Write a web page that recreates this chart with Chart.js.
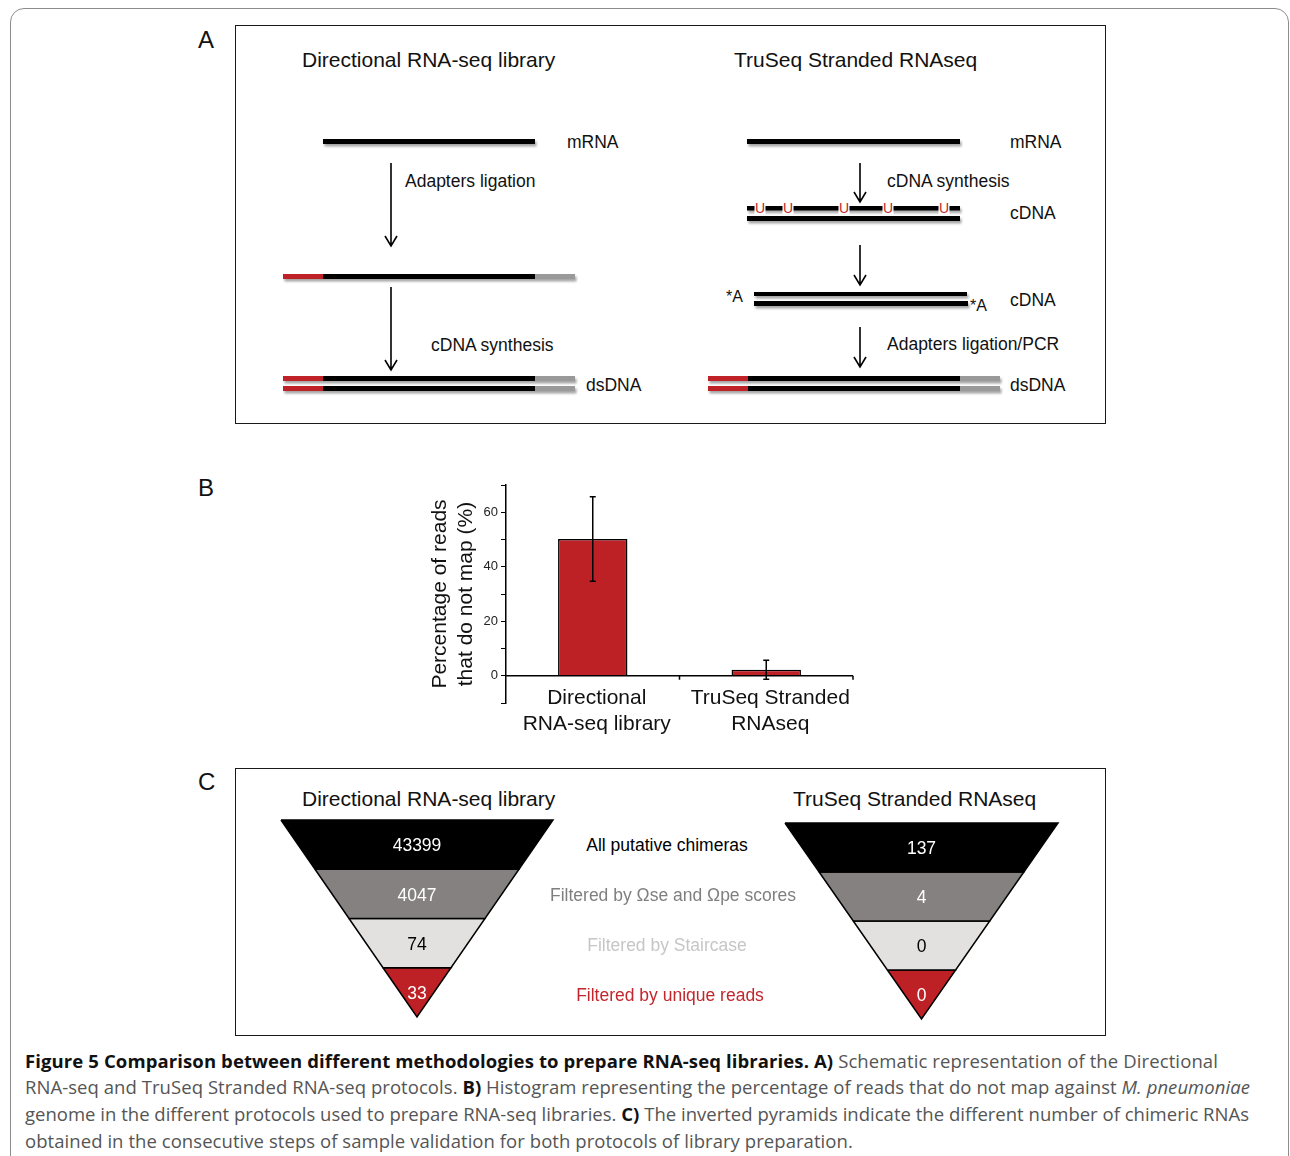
<!DOCTYPE html>
<html><head><meta charset="utf-8">
<script src="https://cdn.jsdelivr.net/npm/chart.js@4.4.1/dist/chart.umd.min.js"></script>
<style>
html,body{margin:0;padding:0;background:#fff;}
body{width:1290px;height:1156px;overflow:hidden;position:relative;font-family:"Liberation Sans",Arial,sans-serif;color:#111;}
.abs{position:absolute;}
.frame{left:10px;top:8px;width:1279px;height:1220px;border:1.5px solid #8c8c8c;border-radius:14px;box-sizing:border-box;}
.box{border:1.5px solid #1a1a1a;box-sizing:border-box;}
.letter{font-size:24px;line-height:24px;}
.title{font-size:21px;line-height:24px;white-space:nowrap;}
.mid{font-size:17.5px;line-height:20px;white-space:nowrap;transform:translateX(-50%);}
.cap{left:25px;font-family:"Open Sans",sans-serif;font-size:18.5px;line-height:26px;white-space:nowrap;color:#555;font-weight:400;}
.cap b{color:#111;font-weight:700;}
</style></head>
<body>
<div class="abs frame"></div>

<!-- Panel A -->
<div class="abs box" style="left:235px;top:25px;width:871px;height:399px;"></div>
<div class="abs letter" style="left:198px;top:28px;">A</div>
<div class="abs title" style="left:302px;top:48px;">Directional RNA-seq library</div>
<div class="abs title" style="left:734px;top:48px;">TruSeq Stranded RNAseq</div>
<svg class="abs" style="left:0;top:0" width="1290" height="440" font-family="Liberation Sans, Arial, sans-serif">
<defs><filter id="sh" x="-5%" y="-200%" width="110%" height="500%"><feDropShadow dx="1.5" dy="2.5" stdDeviation="1.3" flood-color="#000" flood-opacity="0.35"/></filter></defs>
<g font-size="17.5" fill="#111" dominant-baseline="central">
 <!-- left -->
 <rect x="323" y="139" width="212" height="5" fill="#000" filter="url(#sh)"/>
 <text x="567" y="142">mRNA</text>
 <path d="M391 163 V246 M385 236 L391 246 L397 236" stroke="#000" stroke-width="1.6" fill="none"/>
 <text x="405" y="181">Adapters ligation</text>
 <g filter="url(#sh)"><rect x="283" y="274" width="40" height="5" fill="#be2026"/><rect x="323" y="274" width="212" height="5" fill="#000"/><rect x="535" y="274" width="40" height="5" fill="#999"/></g>
 <path d="M391 287 V370 M385 360 L391 370 L397 360" stroke="#000" stroke-width="1.6" fill="none"/>
 <text x="431" y="345">cDNA synthesis</text>
 <g filter="url(#sh)"><rect x="283" y="376" width="40" height="5" fill="#be2026"/><rect x="323" y="376" width="212" height="5" fill="#000"/><rect x="535" y="376" width="40" height="5" fill="#999"/></g>
 <g filter="url(#sh)"><rect x="283" y="386" width="40" height="5" fill="#be2026"/><rect x="323" y="386" width="212" height="5" fill="#000"/><rect x="535" y="386" width="40" height="5" fill="#999"/></g>
 <text x="586" y="385">dsDNA</text>
 <!-- right -->
 <rect x="747" y="139" width="213" height="5" fill="#000" filter="url(#sh)"/>
 <text x="1010" y="142">mRNA</text>
 <path d="M860 163 V202 M854 192 L860 202 L866 192" stroke="#000" stroke-width="1.6" fill="none"/>
 <text x="887" y="181">cDNA synthesis</text>
 <rect x="747" y="206" width="213" height="4.5" fill="#000" filter="url(#sh)"/>
 <rect x="747" y="216" width="213" height="5" fill="#000" filter="url(#sh)"/>
 <g fill="#fff"><rect x="754.5" y="202" width="11" height="12.5"/><rect x="782.5" y="202" width="11" height="12.5"/><rect x="838.5" y="202" width="11" height="12.5"/><rect x="882.5" y="202" width="11" height="12.5"/><rect x="938.5" y="202" width="11" height="12.5"/></g>
 <g fill="#c1272d" font-size="14" text-anchor="middle"><text x="760" y="208">U</text><text x="788" y="208">U</text><text x="844" y="208">U</text><text x="888" y="208">U</text><text x="944" y="208">U</text></g>
 <text x="1010" y="213">cDNA</text>
 <path d="M860 245 V285 M854 275 L860 285 L866 275" stroke="#000" stroke-width="1.6" fill="none"/>
 <rect x="754" y="292" width="213" height="4" fill="#000" filter="url(#sh)"/>
 <rect x="754" y="301" width="214" height="5" fill="#000" filter="url(#sh)"/>
 <text x="726" y="296" font-size="16">*A</text>
 <text x="970" y="305" font-size="16">*A</text>
 <text x="1010" y="300">cDNA</text>
 <path d="M860 327 V367 M854 357 L860 367 L866 357" stroke="#000" stroke-width="1.6" fill="none"/>
 <text x="887" y="344">Adapters ligation/PCR</text>
 <g filter="url(#sh)"><rect x="708" y="376" width="40" height="5" fill="#be2026"/><rect x="748" y="376" width="212" height="5" fill="#000"/><rect x="960" y="376" width="40" height="5" fill="#999"/></g>
 <g filter="url(#sh)"><rect x="708" y="386" width="40" height="5" fill="#be2026"/><rect x="748" y="386" width="212" height="5" fill="#000"/><rect x="960" y="386" width="40" height="5" fill="#999"/></g>
 <text x="1010" y="385">dsDNA</text>
</g>
</svg>

<!-- Panel B -->
<div class="abs letter" style="left:198px;top:476px;">B</div>
<div class="abs" style="left:400px;top:470px;width:480px;height:290px;"><canvas id="barChart"></canvas></div>

<!-- Panel C -->
<div class="abs box" style="left:235px;top:768px;width:871px;height:268px;"></div>
<div class="abs letter" style="left:198px;top:770px;">C</div>
<div class="abs title" style="left:302px;top:787px;">Directional RNA-seq library</div>
<div class="abs title" style="left:793px;top:787px;">TruSeq Stranded RNAseq</div>
<div class="abs" style="left:278px;top:817px;width:278px;height:203px;"><canvas id="pyrLeft"></canvas></div>
<div class="abs" style="left:782px;top:820px;width:279px;height:202px;"><canvas id="pyrRight"></canvas></div>
<div id="midLabels"></div>

<!-- Caption -->
<div class="abs cap" id="c1" style="top:1048px;"><b>Figure 5 Comparison between different methodologies to prepare RNA-seq libraries. A)</b> Schematic representation of the Directional</div>
<div class="abs cap" id="c2" style="top:1074px;">RNA-seq and TruSeq Stranded RNA-seq protocols. <b>B)</b> Histogram representing the percentage of reads that do not map against <i>M. pneumoniae</i></div>
<div class="abs cap" id="c3" style="top:1101px;">genome in the different protocols used to prepare RNA-seq libraries. <b>C)</b> The inverted pyramids indicate the different number of chimeric RNAs</div>
<div class="abs cap" id="c4" style="top:1128px;">obtained in the consecutive steps of sample validation for both protocols of library preparation.</div>

<script>
// ---------- DATA ----------
const barCategories = [["Directional", "RNA-seq library"], ["TruSeq Stranded", "RNAseq"]];
const barValues = [50.2, 2.2];
const barErrors = [15.5, 3.5];
const yTickLabels = [0, 20, 40, 60];
const yAxisTitle = ["Percentage of reads", "that do not map (%)"];

const pyramidSteps = ["All putative chimeras", "Filtered by \u03A9se and \u03A9pe scores", "Filtered by Staircase", "Filtered by unique reads"];
const directionalCounts = [43399, 4047, 74, 33];
const truseqCounts = [137, 4, 0, 0];

// ---------- STYLE ----------
const FONT = '"Liberation Sans", Arial, sans-serif';
const RED = '#bd2025';
const layerFill = ['#000000', '#858180', '#e2e1df', RED];
const layerText = ['#ffffff', '#ffffff', '#000000', '#ffffff'];
const stepColors = ['#000000', '#7f7f7f', '#c6c6c6', '#c1272d'];
const stepCenters = [667, 673, 667, 670];

// ---------- BAR CHART ----------
const barExtras = {
  id: 'barExtras',
  afterDatasetsDraw(chart) {
    const {ctx, chartArea, scales: {x, y}} = chart;
    const y0 = y.getPixelForValue(0);
    ctx.save();
    ctx.strokeStyle = '#000';
    ctx.lineWidth = 1.5;
    ctx.beginPath();
    ctx.moveTo(chartArea.left, y0); ctx.lineTo(chartArea.right, y0);
    for (let i = 0; i < barCategories.length; i++) {
      const bx = i < barCategories.length - 1 ? x.getPixelForValue(i + 0.5) : chartArea.right;
      ctx.moveTo(bx, y0); ctx.lineTo(bx, y0 + 4);
    }
    ctx.stroke();
    barValues.forEach((v, i) => {
      const px = x.getPixelForValue(i);
      const t = y.getPixelForValue(v + barErrors[i]);
      const b = y.getPixelForValue(v - barErrors[i]);
      ctx.beginPath();
      ctx.moveTo(px, t); ctx.lineTo(px, b);
      ctx.moveTo(px - 3, t); ctx.lineTo(px + 3, t);
      ctx.moveTo(px - 3, b); ctx.lineTo(px + 3, b);
      ctx.stroke();
    });
    // category labels, placed under the zero line
    ctx.font = '21px ' + FONT;
    ctx.fillStyle = '#111';
    ctx.textAlign = 'center';
    ctx.textBaseline = 'middle';
    barCategories.forEach((lines, i) => {
      const px = x.getPixelForValue(i) + 4;
      lines.forEach((ln, k) => ctx.fillText(ln, px, y0 + 22 + 26 * k));
    });
    ctx.restore();
  }
};

new Chart(document.getElementById('barChart'), {
  type: 'bar',
  data: {
    labels: barCategories,
    datasets: [{
      data: barValues,
      backgroundColor: RED,
      borderColor: '#000',
      borderWidth: 1.5,
      barPercentage: 0.4,
      categoryPercentage: 1.0
    }]
  },
  options: {
    responsive: true, maintainAspectRatio: false, animation: false,
    layout: {padding: {top: 15, right: 27, left: 0, bottom: 0}},
    plugins: {legend: {display: false}, tooltip: {enabled: false}},
    scales: {
      x: {
        border: {display: false},
        grid: {display: false, drawTicks: false},
        ticks: {display: false},
        afterFit(s) { s.height = 57; }
      },
      y: {
        min: -10, max: 70,
        border: {display: true, color: '#000', width: 1.5},
        grid: {drawOnChartArea: false, tickLength: 5, color: '#000', lineWidth: 1},
        ticks: {stepSize: 10, font: {family: FONT, size: 13}, color: '#222', padding: 3,
          callback: v => yTickLabels.includes(v) ? String(v) : ''},
        title: {display: true, text: yAxisTitle, color: '#111', font: {family: FONT, size: 21, lineHeight: 1.25}, padding: {top: 27, bottom: 0}},
        afterFit(s) { s.width = 106; }
      }
    }
  },
  plugins: [barExtras]
});

// ---------- PYRAMIDS ----------
function pyramid(canvasId, counts) {
  const n = counts.length;
  const datasets = counts.map((c, i) => {
    const wt = (n - i) / n, wb = (n - i - 1) / n;
    return {
      data: [{x: -wt, y: i}, {x: wt, y: i}, {x: wb, y: i + 1}, {x: -wb, y: i + 1}, {x: -wt, y: i}],
      showLine: true, fill: 'shape', backgroundColor: layerFill[i],
      borderColor: '#000', borderWidth: 1.5, pointRadius: 0, tension: 0,
      borderJoinStyle: 'miter', clip: false
    };
  });
  const labels = {
    id: 'pyrLabels',
    afterDatasetsDraw(chart) {
      const {ctx, scales: {x, y}} = chart;
      ctx.save();
      ctx.font = '17.5px ' + FONT;
      ctx.textAlign = 'center'; ctx.textBaseline = 'middle';
      counts.forEach((c, i) => {
        ctx.fillStyle = layerText[i];
        ctx.fillText(String(c), x.getPixelForValue(0), y.getPixelForValue(i + 0.5) + 2);
      });
      ctx.restore();
    }
  };
  new Chart(document.getElementById(canvasId), {
    type: 'scatter',
    data: {datasets},
    options: {
      responsive: true, maintainAspectRatio: false, animation: false,
      layout: {padding: 3},
      plugins: {legend: {display: false}, tooltip: {enabled: false}},
      scales: {
        x: {type: 'linear', min: -1, max: 1, display: false},
        y: {type: 'linear', min: 0, max: n, reverse: true, display: false}
      }
    },
    plugins: [labels]
  });
}
pyramid('pyrLeft', directionalCounts);
pyramid('pyrRight', truseqCounts);

// middle step labels
const mid = document.getElementById('midLabels');
pyramidSteps.forEach((s, i) => {
  const d = document.createElement('div');
  d.className = 'abs mid';
  d.textContent = s;
  d.style.left = stepCenters[i] + 'px';
  d.style.top = (835 + 50 * i) + 'px';
  d.style.color = stepColors[i];
  mid.appendChild(d);
});

// caption fitting
const capTargets = {c1: 1193, c2: 1225, c3: 1224};
let spacingSum = 0, cnt = 0;
Object.entries(capTargets).forEach(([id, w]) => {
  const el = document.getElementById(id);
  const nat = el.getBoundingClientRect().width;
  const chars = el.textContent.length;
  const ls = (w - nat) / chars;
  el.style.letterSpacing = ls + 'px';
  spacingSum += ls; cnt++;
});
document.getElementById('c4').style.letterSpacing = (spacingSum / cnt) + 'px';
</script>
</body></html>
